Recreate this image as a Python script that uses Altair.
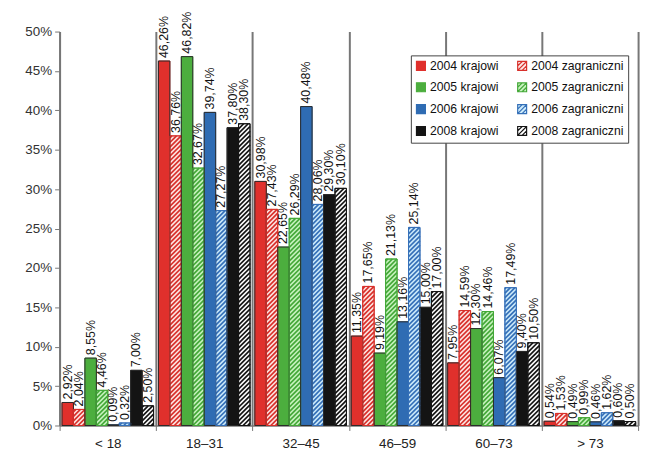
import json
import altair as alt
import numpy as np
import pandas as pd

# ---------------- data ----------------
groups = ["< 18", "18–31", "32–45", "46–59", "60–73", "> 73"]
series = ["2004 krajowi", "2004 zagraniczni", "2005 krajowi", "2005 zagraniczni",
          "2006 krajowi", "2006 zagraniczni", "2008 krajowi", "2008 zagraniczni"]
v2004k = [2.92, 46.26, 30.98, 11.35, 7.95, 0.54]
v2004z = [2.04, 36.76, 27.43, 17.65, 14.59, 1.53]
v2005k = [8.55, 46.82, 22.65, 9.19, 12.30, 0.49]
v2005z = [4.46, 32.67, 26.29, 21.13, 14.46, 0.99]
v2006k = [0.09, 39.74, 40.48, 13.16, 6.07, 0.46]
v2006z = [0.32, 27.27, 28.06, 25.14, 17.49, 1.62]
v2008k = [7.00, 37.80, 29.30, 15.00, 9.40, 0.60]
v2008z = [2.50, 38.30, 30.10, 17.00, 10.50, 0.50]
values = [v2004k, v2004z, v2005k, v2005z, v2006k, v2006z, v2008k, v2008z]

# ---------------- styles ----------------
fills = ["#e0302c", "#fde6e4", "#4cae3e", "#c8f3bf", "#2f6cb3", "#cdebfb", "#141414", "#ffffff"]
strokes = ["#e0302c", "#d8302b", "#4cae3e", "#44a838", "#2f6cb3", "#3570b8", "#141414", "#141414"]

W, H = 583, 397
YMAX = 50
NG = len(groups)
NS = len(series)
PAD = 0.025
BW = (1 - 2 * PAD) / NS
PX_X = W / NG
PX_Y = H / YMAX
PERIOD = 4.6  # vertical spacing of hatch stripes (px)

rows = []
for si, s in enumerate(series):
    for gi, v in enumerate(values[si]):
        x0 = gi + PAD + si * BW
        rows.append(dict(series=s, kind="z" if si % 2 else "k", value=v,
                         x0=x0, x1=x0 + BW, xc=x0 + BW / 2,
                         label=f"{v:.2f}".replace(".", ",") + "%"))
df = pd.DataFrame(rows)

# hatch stripes for the "zagraniczni" bars, derived from bar geometry
hrows = []
for si, s in enumerate(series):
    if si % 2 == 0:
        continue
    for gi, v in enumerate(values[si]):
        x0 = gi + PAD + si * BW
        w = BW * PX_X
        h = v * PX_Y
        c = -np.ceil(w / PERIOD) * PERIOD
        while c < h:
            a = max(0.0, -c)
            b = min(w, h - c)
            if b > a:
                hrows.append(dict(series=s, hx=x0 + a / PX_X, hx2=x0 + b / PX_X,
                                  hy=(a + c) / PX_Y, hy2=(b + c) / PX_Y))
            c += PERIOD
hdf = pd.DataFrame(hrows)

FONT = "Liberation Sans"
HATCH_PATH = "M-1,-1H1V1H-1Z M-1,0L0,-1 M-1,1L1,-1 M0,1L1,0"

xscale = alt.Scale(domain=[0, NG], nice=False, zero=False)
yscale = alt.Scale(domain=[0, YMAX], nice=False)
xaxis = alt.Axis(values=list(range(NG + 1)),
                 labelExpr=json.dumps(groups, ensure_ascii=False) + "[datum.value] || ''",
                 labelOffset=PX_X / 2, grid=True, gridColor="#777777", gridWidth=2,
                 tickSize=5, tickColor="#777777", domainColor="#777777", domainWidth=1.5,
                 labelFontSize=13.5, labelColor="#222222", labelPadding=6, labelFont=FONT,
                 labelFlush=False, labelOverlap=False, title=None)
yaxis = alt.Axis(values=list(range(0, YMAX + 1, 5)), labelExpr="datum.value + '%'",
                 grid=False, tickSize=5, tickColor="#777777", domainColor="#777777",
                 domainWidth=1.5, labelFontSize=13.5, labelColor="#333333", labelPadding=3,
                 labelFont=FONT, title=None)

legend = alt.Legend(orient="none", legendX=354, legendY=24, columns=2, direction="horizontal",
                    columnPadding=16, rowPadding=7, padding=4, strokeColor="#444444",
                    fillColor="white", title=None, labelFontSize=12.3, labelFont=FONT,
                    labelColor="#111111", symbolType=HATCH_PATH, symbolSize=81,
                    symbolStrokeWidth=1.2, labelLimit=300, labelOffset=3)

color_scale = alt.Scale(domain=series, range=fills)
stroke_scale = alt.Scale(domain=series, range=strokes)

bars = alt.Chart(df).mark_bar(strokeWidth=1).encode(
    x=alt.X("x0:Q", scale=xscale, axis=xaxis),
    x2="x1:Q",
    y=alt.Y("value:Q", scale=yscale, axis=yaxis),
    y2=alt.datum(0),
    color=alt.Color("series:N", scale=color_scale, legend=legend),
    stroke=alt.Stroke("series:N", scale=stroke_scale, legend=legend),
)

hatch = alt.Chart(hdf).mark_rule(strokeWidth=1.7).encode(
    x=alt.X("hx:Q", scale=xscale, axis=xaxis),
    x2="hx2:Q",
    y=alt.Y("hy:Q", scale=yscale, axis=yaxis),
    y2="hy2:Q",
    stroke=alt.Stroke("series:N", scale=stroke_scale, legend=None),
)

outline = alt.Chart(df).mark_bar(fillOpacity=0, strokeWidth=1).encode(
    x=alt.X("x0:Q", scale=xscale, axis=xaxis),
    x2="x1:Q",
    y=alt.Y("value:Q", scale=yscale, axis=yaxis),
    y2=alt.datum(0),
    stroke=alt.condition("datum.kind == 'k'", alt.value("#2a2a2a"),
                         alt.Stroke("series:N", scale=stroke_scale, legend=None)),
)

labels = alt.Chart(df).mark_text(angle=270, align="left", baseline="middle", dx=3,
                                 fontSize=12.5, font=FONT, color="#111111").encode(
    x=alt.X("xc:Q", scale=xscale, axis=xaxis),
    y=alt.Y("value:Q", scale=yscale, axis=yaxis),
    text="label:N",
)

chart = alt.layer(bars, hatch, outline, labels).properties(
    width=W, height=H,
    autosize=alt.AutoSizeParams(type="none"),
    padding={"left": 52, "top": 22, "right": 12, "bottom": 30},
    background="white",
).configure_view(stroke=None)

chart.save("out.html", embed_options={"renderer": "svg", "actions": False})
